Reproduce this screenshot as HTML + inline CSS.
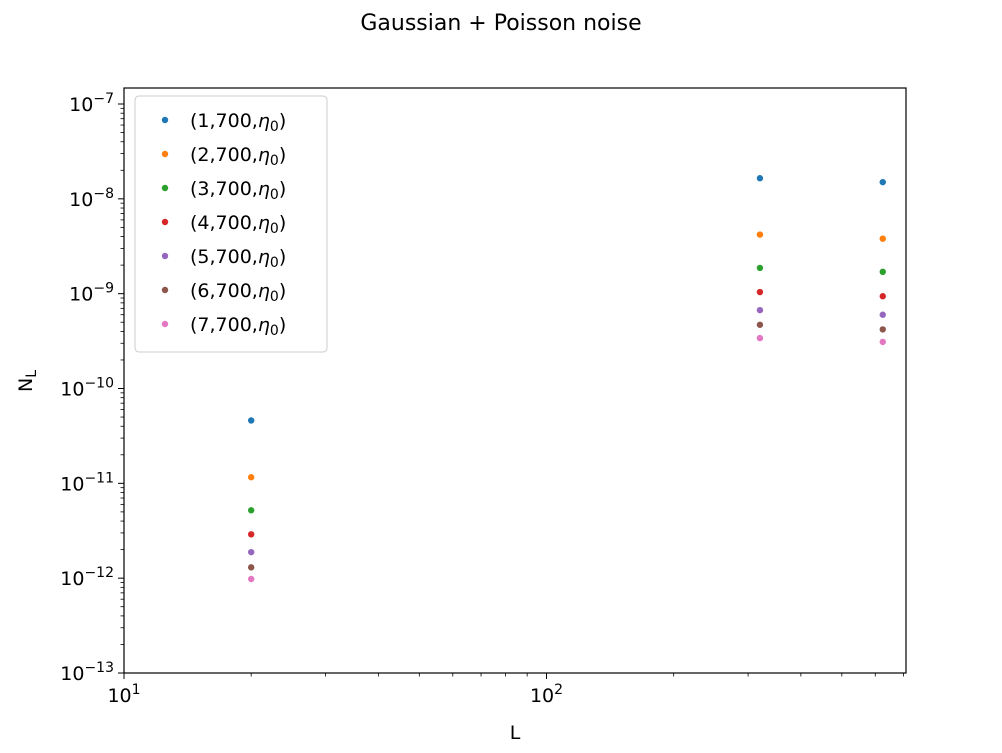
<!DOCTYPE html>
<html><head><meta charset="utf-8"><style>
html,body{margin:0;padding:0;background:#fff;}
svg{display:block;font-family:"DejaVu Sans","Liberation Sans",sans-serif;}
</style></head><body>
<svg id="chart" width="1002" height="753">
<text x="501" y="30" font-size="22" text-anchor="middle">Gaussian + Poisson noise</text>
<g id="axes"></g>
<g id="marks"></g>
<g id="legend"></g>
</svg>
<script>
const xValues = [20, 320, 625];
const seriesLabels = ["1","2","3","4","5","6","7"];
const colors = ["#1f77b4","#ff7f0e","#2ca02c","#d62728","#9467bd","#8c564b","#e377c2"];
const s1 = [4.6e-11, 1.65e-8, 1.5e-8];
const s2 = [1.16e-11, 4.2e-9, 3.8e-9];
const s3 = [5.2e-12, 1.87e-9, 1.7e-9];
const s4 = [2.9e-12, 1.04e-9, 9.4e-10];
const s5 = [1.88e-12, 6.7e-10, 6.0e-10];
const s6 = [1.3e-12, 4.7e-10, 4.2e-10];
const s7 = [9.8e-13, 3.4e-10, 3.1e-10];
const series = [s1,s2,s3,s4,s5,s6,s7];
const xTickExps = [1, 2];
const yTickExps = [-13,-12,-11,-10,-9,-8,-7];

const NS="http://www.w3.org/2000/svg";
const L=124, R=906, T=88, B=673;
const xMinLog=1, xMaxLog=1+(R-L)/422.5;
const yDec=94.8, yTopLog=-7+(104-T)/yDec, yBotLog=-13;
function X(v){return L+(Math.log10(v)-xMinLog)/(xMaxLog-xMinLog)*(R-L);}
function Y(v){return B-(Math.log10(v)-yBotLog)/(yTopLog-yBotLog)*(B-T);}
function mk(tag,attrs,parent){const e=document.createElementNS(NS,tag);for(const k in attrs)e.setAttribute(k,attrs[k]);parent.appendChild(e);return e;}
const axes=document.getElementById('axes');
const frame=mk('rect',{x:L,y:T,width:R-L,height:B-T,fill:'none',stroke:'#000','stroke-width':1.2},axes);


for(let e=1;e<=2;e++){for(let m=1;m<10;m++){const v=m*Math.pow(10,e);const px=X(v);if(px>R+0.5)continue;
 const t=mk('line',{x1:px,x2:px,y1:B,y2:B+(m===1?6:3.5),stroke:'#000','stroke-width':m===1?1:0.8},axes);
 
 }}
xTickExps.forEach(e=>{const px=X(Math.pow(10,e));const t=mk('text',{x:px,y:B+29,'font-size':19,'text-anchor':'middle'},axes);
 t.innerHTML='10<tspan dy="-8" font-size="14">'+e+'</tspan>';
 
 });
for(let e=-13;e<=-7;e++){for(let m=1;m<10;m++){const v=m*Math.pow(10,e);const py=Y(v);if(py<T-0.5)continue;
 const t=mk('line',{x1:L,x2:L-(m===1?6:3.5),y1:py,y2:py,stroke:'#000','stroke-width':m===1?1:0.8},axes);
 
 }}
yTickExps.forEach(e=>{const py=Y(Math.pow(10,e));const t=mk('text',{x:L-10,y:py+7,'font-size':19,'text-anchor':'end'},axes);
 t.innerHTML='10<tspan dy="-8" font-size="14">\u2212'+(-e)+'</tspan>';
 
 });
const xl=mk('text',{x:(L+R)/2,y:739,'font-size':19,'text-anchor':'middle'},axes);xl.textContent='L';


const yl=mk('text',{x:0,y:0,'font-size':19,'text-anchor':'middle',transform:'translate(32,381) rotate(-90)'},axes);
yl.innerHTML='N<tspan dy="4" font-size="14">L</tspan>';


const marks=document.getElementById('marks');
series.forEach((s,i)=>{s.forEach((v,j)=>{const c=mk('circle',{cx:X(xValues[j]),cy:Y(v),r:3.2,fill:colors[i]},marks);
 
 });});
const lg=document.getElementById('legend');
const box=mk('rect',{x:135,y:96,width:192,height:256,rx:4,fill:'#fff','fill-opacity':0.8,stroke:'#ccc'},lg);


seriesLabels.forEach((s,i)=>{const y=120+i*34;
 const c=mk('circle',{cx:165,cy:y,r:3.2,fill:colors[i]},lg);
 
 
 const t=mk('text',{x:190,y:y+7,'font-size':19},lg);
 t.innerHTML='('+s+',700,<tspan font-style="italic">η</tspan><tspan dy="4" font-size="14">0</tspan><tspan dy="-4">)</tspan>';
 
 });
</script>
</body></html>
